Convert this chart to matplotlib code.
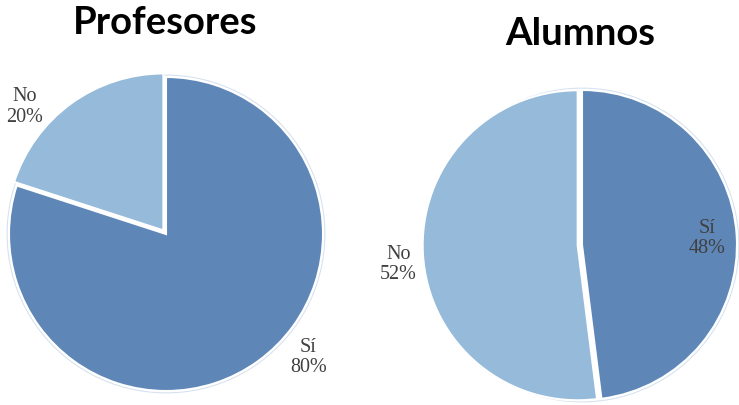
import matplotlib.pyplot as plt
import numpy as np

# data
categories = ['Sí', 'No']
profesores = [80, 20]
alumnos = [48, 52]
titles = ['Profesores', 'Alumnos']

colors = ['#5e87b8', '#95bada']
W, H = 739, 405
fig = plt.figure(figsize=(W / 100, H / 100), dpi=100)


def pie_axes(cx, cy, r, lim=1.35):
    # square axes, radius 1 == r pixels
    half = r * lim
    return fig.add_axes([(cx - half) / W, 1 - (cy + half) / H, 2 * half / W, 2 * half / H])


def draw_pie(ax, values, explode, label_pos):
    wedges, texts = ax.pie(values, colors=colors, startangle=90, counterclock=False,
                           explode=explode, labels=categories,
                           wedgeprops=dict(edgecolor='white', linewidth=1.5))
    for w in wedges:
        w.set_zorder(2)
    # faint outer ring
    ax.add_patch(plt.Circle((0, 0), 1.012, fill=False, ec='#d6e2f0', lw=0.8, zorder=1))
    for t, v, (rad, ang) in zip(texts, values, label_pos):
        a = np.deg2rad(ang)
        t.set_position((rad * np.cos(a), rad * np.sin(a)))
        t.set_text(f'{t.get_text()}\n{v}%')
        t.set_ha('center')
        t.set_va('center')
        t.set_fontfamily('Liberation Serif')
        t.set_fontsize(14.5)
        t.set_color('#404040')
        t.set_linespacing(1.1)
    ax.set_xlim(-1.35, 1.35)
    ax.set_ylim(-1.35, 1.35)
    ax.set_aspect('equal')
    ax.axis('off')


ax1 = pie_axes(166, 234, 157)
draw_pie(ax1, profesores, [0, 0.028], [(1.2, -41), (1.21, 138)])

ax2 = pie_axes(582, 245, 155)
draw_pie(ax2, alumnos, [0, 0.028], [(0.81, 3), (1.19, 186)])

fig.text(165 / W, 1 - 23 / H, titles[0], ha='center', va='center',
         fontsize=27.5, fontweight='bold', family='Lato')
fig.text(580 / W, 1 - 34 / H, titles[1], ha='center', va='center',
         fontsize=27.5, fontweight='bold', family='Lato')

fig.savefig('out.png', dpi=100)
